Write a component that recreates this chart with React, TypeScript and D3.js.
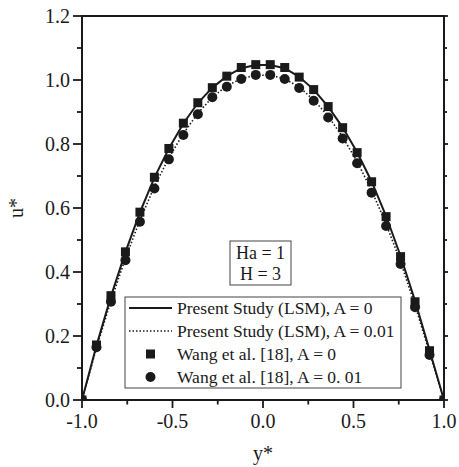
import React, { useRef, useEffect } from 'react';
import * as d3 from 'd3';

const W = 459;
const H = 467;
const margin = { left: 82, right: 15, top: 16, bottom: 67 };

// y* positions (step 0.08)
const yStar = [
  -1, -0.92, -0.84, -0.76, -0.68, -0.6, -0.52, -0.44, -0.36, -0.28, -0.2, -0.12, -0.04,
  0.04, 0.12, 0.2, 0.28, 0.36, 0.44, 0.52, 0.6, 0.68, 0.76, 0.84, 0.92, 1,
];
// Wang et al. [18], A = 0 (squares)
const wangA0 = [
  0, 0.172, 0.326, 0.463, 0.587, 0.696, 0.786, 0.865, 0.929, 0.976, 1.012, 1.039, 1.048,
  1.048, 1.039, 1.009, 0.97, 0.917, 0.851, 0.773, 0.682, 0.573, 0.448, 0.307, 0.154, 0,
];
// Wang et al. [18], A = 0.01 (circles)
const wangA001 = [
  0, 0.165, 0.307, 0.437, 0.557, 0.661, 0.752, 0.828, 0.893, 0.946, 0.979, 1.003, 1.016,
  1.016, 1.003, 0.975, 0.935, 0.883, 0.817, 0.74, 0.648, 0.544, 0.425, 0.29, 0.141, 0,
];
// Present study (LSM)
const lsmA0 = [
  0, 0.17, 0.324, 0.462, 0.586, 0.695, 0.786, 0.864, 0.928, 0.976, 1.012, 1.037, 1.047,
  1.047, 1.037, 1.01, 0.97, 0.917, 0.852, 0.774, 0.683, 0.575, 0.45, 0.31, 0.156, 0,
];
const lsmA001 = [
  0, 0.163, 0.31, 0.443, 0.562, 0.667, 0.757, 0.833, 0.896, 0.946, 0.982, 1.004, 1.015,
  1.015, 1.004, 0.978, 0.938, 0.887, 0.822, 0.745, 0.655, 0.55, 0.432, 0.296, 0.148, 0,
];

const xTicks = [-1, -0.5, 0, 0.5, 1];
const xMinor = [-0.75, -0.25, 0.25, 0.75];
const yTicks = [0, 0.2, 0.4, 0.6, 0.8, 1.0, 1.2];
const yMinor = [0.1, 0.3, 0.5, 0.7, 0.9, 1.1];

const legendItems = [
  { label: 'Present Study (LSM), A = 0', kind: 'solid' },
  { label: 'Present Study (LSM), A = 0.01', kind: 'dotted' },
  { label: 'Wang et al. [18], A = 0', kind: 'square' },
  { label: 'Wang et al. [18], A = 0. 01', kind: 'circle' },
];
const paramLines = ['Ha = 1', 'H = 3'];

const ink = '#1a1a1a';
const font = '"Liberation Serif", "Times New Roman", serif';
const fmt = (v: number) => v.toFixed(1);

function draw(el: SVGSVGElement) {
  const svg = d3.select(el);
  svg.selectAll('*').remove();

  const x = d3.scaleLinear().domain([-1, 1]).range([margin.left, W - margin.right]);
  const y = d3.scaleLinear().domain([0, 1.2]).range([H - margin.bottom, margin.top]);
  const [x0, x1] = x.range();
  const [y0, y1] = y.range();

  svg.append('rect').attr('width', W).attr('height', H).attr('fill', 'white');

  svg.append('defs').append('clipPath').attr('id', 'plotClip')
    .append('rect').attr('x', x0).attr('y', y1).attr('width', x1 - x0).attr('height', y0 - y1);

  const plot = svg.append('g').attr('clip-path', 'url(#plotClip)');

  const line = d3.line<number>().x((_, i) => x(yStar[i])).y(d => y(d));

  plot.append('path').attr('d', line(lsmA001)).attr('fill', 'none')
    .attr('stroke', ink).attr('stroke-width', 1.6).attr('stroke-dasharray', '1.5,2');
  plot.append('path').attr('d', line(lsmA0)).attr('fill', 'none')
    .attr('stroke', ink).attr('stroke-width', 2);

  const sq = 9;
  plot.append('g').selectAll('rect').data(wangA0).join('rect')
    .attr('x', (_, i) => x(yStar[i]) - sq / 2).attr('y', d => y(d) - sq / 2)
    .attr('width', sq).attr('height', sq).attr('fill', ink);
  plot.append('g').selectAll('circle').data(wangA001).join('circle')
    .attr('cx', (_, i) => x(yStar[i])).attr('cy', d => y(d)).attr('r', 5).attr('fill', ink);

  // frame
  svg.append('rect').attr('x', x0).attr('y', y1).attr('width', x1 - x0).attr('height', y0 - y1)
    .attr('fill', 'none').attr('stroke', ink).attr('stroke-width', 2);

  const ticks = svg.append('g').attr('stroke', ink).attr('stroke-width', 1.8);
  xTicks.forEach(t => ticks.append('line').attr('x1', x(t)).attr('x2', x(t)).attr('y1', y0).attr('y2', y0 + 8));
  xMinor.forEach(t => ticks.append('line').attr('x1', x(t)).attr('x2', x(t)).attr('y1', y0).attr('y2', y0 + 4.5));
  yTicks.forEach(t => {
    ticks.append('line').attr('x1', x0 - 9).attr('x2', x0).attr('y1', y(t)).attr('y2', y(t));
    ticks.append('line').attr('x1', x1).attr('x2', x1 + 4).attr('y1', y(t)).attr('y2', y(t));
  });
  yMinor.forEach(t => {
    ticks.append('line').attr('x1', x0 - 5).attr('x2', x0).attr('y1', y(t)).attr('y2', y(t));
    ticks.append('line').attr('x1', x1).attr('x2', x1 + 3).attr('y1', y(t)).attr('y2', y(t));
  });

  const text = svg.append('g').attr('font-family', font).attr('fill', ink);
  xTicks.forEach(t => text.append('text').attr('x', x(t)).attr('y', y0 + 28)
    .attr('text-anchor', 'middle').attr('font-size', 20).text(fmt(t)));
  yTicks.forEach(t => text.append('text').attr('x', x0 - 12).attr('y', y(t)).attr('dy', '0.35em')
    .attr('text-anchor', 'end').attr('font-size', 20).text(fmt(t)));

  text.append('text').attr('x', (x0 + x1) / 2).attr('y', 460).attr('text-anchor', 'middle')
    .attr('font-size', 20).text('y*');
  text.append('text').attr('transform', `translate(23, ${(y0 + y1) / 2}) rotate(-90)`)
    .attr('text-anchor', 'middle').attr('font-size', 20).text('u*');

  // parameter box
  const pb = svg.append('g');
  pb.append('rect').attr('x', 230).attr('y', 241).attr('width', 61).attr('height', 44)
    .attr('fill', 'white').attr('stroke', '#444').attr('stroke-width', 1);
  paramLines.forEach((s, i) => pb.append('text').attr('x', 260.5).attr('y', 253 + i * 21)
    .attr('dy', '0.35em').attr('text-anchor', 'middle').attr('font-family', font)
    .attr('font-size', 18).attr('fill', ink).text(s));

  // legend
  const lg = svg.append('g');
  lg.append('rect').attr('x', 125).attr('y', 297).attr('width', 276).attr('height', 91)
    .attr('fill', 'white').attr('stroke', '#444').attr('stroke-width', 1);
  legendItems.forEach((it, i) => {
    const cy = 308 + i * 23;
    if (it.kind === 'solid') {
      lg.append('line').attr('x1', 129).attr('x2', 172).attr('y1', cy).attr('y2', cy)
        .attr('stroke', ink).attr('stroke-width', 2);
    } else if (it.kind === 'dotted') {
      lg.append('line').attr('x1', 129).attr('x2', 172).attr('y1', cy).attr('y2', cy)
        .attr('stroke', ink).attr('stroke-width', 1.6).attr('stroke-dasharray', '1.5,2');
    } else if (it.kind === 'square') {
      lg.append('rect').attr('x', 150.5 - sq / 2).attr('y', cy - sq / 2).attr('width', sq).attr('height', sq).attr('fill', ink);
    } else {
      lg.append('circle').attr('cx', 150.5).attr('cy', cy).attr('r', 5).attr('fill', ink);
    }
    lg.append('text').attr('x', 177).attr('y', cy).attr('dy', '0.35em')
      .attr('font-family', font).attr('font-size', 17.5).attr('fill', ink).text(it.label);
  });
}

export default function App() {
  const ref = useRef<SVGSVGElement>(null);
  useEffect(() => {
    if (ref.current) draw(ref.current);
  }, []);
  return (
    <svg ref={ref} width={W} height={H}
      style={{ position: 'absolute', left: 0, top: 0, display: 'block' }} />
  );
}
